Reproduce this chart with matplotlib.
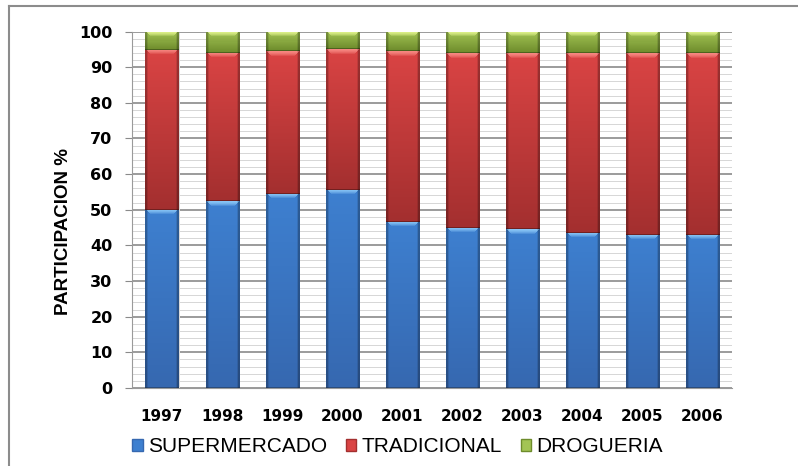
import numpy as np
import matplotlib.pyplot as plt
from matplotlib.colors import to_rgb
from matplotlib.lines import Line2D
from matplotlib.patches import Patch

years = ['1997', '1998', '1999', '2000', '2001', '2002', '2003', '2004', '2005', '2006']
supermercado = [50.0, 52.4, 54.5, 55.6, 46.7, 45.0, 44.6, 43.6, 43.0, 43.0]
tradicional = [44.9, 41.7, 40.1, 39.4, 47.7, 48.9, 49.3, 50.3, 51.0, 50.9]
drogueria = [5.1, 5.9, 5.4, 5.0, 5.6, 6.1, 6.1, 6.1, 6.0, 6.1]

# (top, bottom, highlight) colours for the bevelled bars
styles = {
    'SUPERMERCADO': ('#3E80D0', '#3668B0', '#8CC8F8'),
    'TRADICIONAL': ('#DA4444', '#A32F2F', '#F88A84'),
    'DROGUERIA': ('#A3C454', '#6E8C2C', '#E4F590'),
}

fig = plt.figure(figsize=(7.98, 4.66), dpi=100)
ax = fig.add_axes([0.1654, 0.1674, 0.752, 0.765])

PX_PER_UNIT = 3.565  # pixels per percentage point on the y axis


def shade(patch, top, bottom, hi):
    x0, y0 = patch.get_x(), patch.get_y()
    w, h = patch.get_width(), patch.get_height()
    ny = max(int(round(h * PX_PER_UNIT)), 6)
    nx = 33
    top, bottom, hi = np.array(to_rgb(top)), np.array(to_rgb(bottom)), np.array(to_rgb(hi))
    t = np.linspace(0, 1, ny)[:, None, None]
    img = top * (1 - t) + bottom * t
    img = np.repeat(img, nx, axis=1)
    # light bevel along the top edge, narrowing like a chamfer
    for i, a in enumerate([0.95, 0.85, 0.7, 0.5, 0.25]):
        if i < ny - 1:
            lo, hi_i = 1 + i, nx - 1 - i
            img[i, lo:hi_i] = img[i, lo:hi_i] * (1 - a) + hi * a
    # darker sides and a dark seam at the bottom
    img[:, :2] *= 0.75
    img[:, -2:] *= 0.72
    img[:, 2] *= 0.9
    img[:, -3] *= 0.9
    img[-1, :] *= 0.7
    im = ax.imshow(np.clip(img, 0, 1), extent=(x0, x0 + w, y0, y0 + h), origin='upper',
                   aspect='auto', interpolation='nearest', zorder=2.5)
    im.set_clip_path(patch)


x = np.arange(len(years))
bottoms = np.zeros(len(years))
handles = []
for name, vals in [('SUPERMERCADO', supermercado), ('TRADICIONAL', tradicional),
                   ('DROGUERIA', drogueria)]:
    top, bot, hi = styles[name]
    # soft shadow to the right of each segment
    ax.bar(x + 0.03, vals, width=0.55, bottom=bottoms - 0.4, color='#d9d9d9',
           zorder=1.8, linewidth=0)
    bars = ax.bar(x, vals, width=0.55, bottom=bottoms, color=bot, zorder=2,
                  linewidth=0)
    for p in bars.patches:
        shade(p, top, bot, hi)
    bottoms += np.array(vals)
    handles.append(Patch(facecolor=top, edgecolor=bot, linewidth=1, label=name))

ax.set_xlim(-0.5, len(years) - 0.5)
ax.set_ylim(0, 100)
ax.set_yticks(range(0, 101, 10))
ax.set_yticks(np.arange(0, 101, 2), minor=True)
ax.set_axisbelow(True)
ax.grid(axis='y', which='major', color='#8a8a8a', linewidth=1.2)
ax.grid(axis='y', which='minor', color='#d6d6d6', linewidth=0.7)

for s in ['top', 'right']:
    ax.spines[s].set_visible(False)
ax.spines['left'].set_color('#9a9a9a')
ax.spines['bottom'].set_color('#9a9a9a')

ax.set_xticks(x)
ax.set_xticklabels(years, fontsize=11, fontweight='bold', family='DejaVu Sans')
ax.tick_params(axis='x', length=0, pad=15)
ax.tick_params(axis='y', which='major', length=5, color='#8a8a8a', pad=9,
               labelsize=11.5)
ax.tick_params(axis='y', which='minor', length=0)
for lab in ax.get_yticklabels():
    lab.set_fontweight('bold')
    lab.set_family('DejaVu Sans')

ax.set_ylabel('PARTICIPACION %', fontsize=13.5, fontweight='bold', family='Liberation Sans')
ax.yaxis.set_label_coords(-0.1, 0.44)

fig.legend(handles=handles, loc='center left', bbox_to_anchor=(124 / 798, 1 - 447 / 466),
           ncol=3, frameon=False, handlelength=0.5, handleheight=0.5,
           handletextpad=0.25, columnspacing=0.9, borderaxespad=0,
           prop={'family': 'Liberation Sans', 'size': 15})

# chart border (top and left edges)
fig.add_artist(Line2D([9 / 798, 1.0], [1 - 6 / 466, 1 - 6 / 466], color='#8c8c8c',
                      linewidth=1.5, transform=fig.transFigure))
fig.add_artist(Line2D([9 / 798, 9 / 798], [0, 1 - 6 / 466], color='#8c8c8c',
                      linewidth=1.5, transform=fig.transFigure))

fig.savefig('out.png', dpi=100)
